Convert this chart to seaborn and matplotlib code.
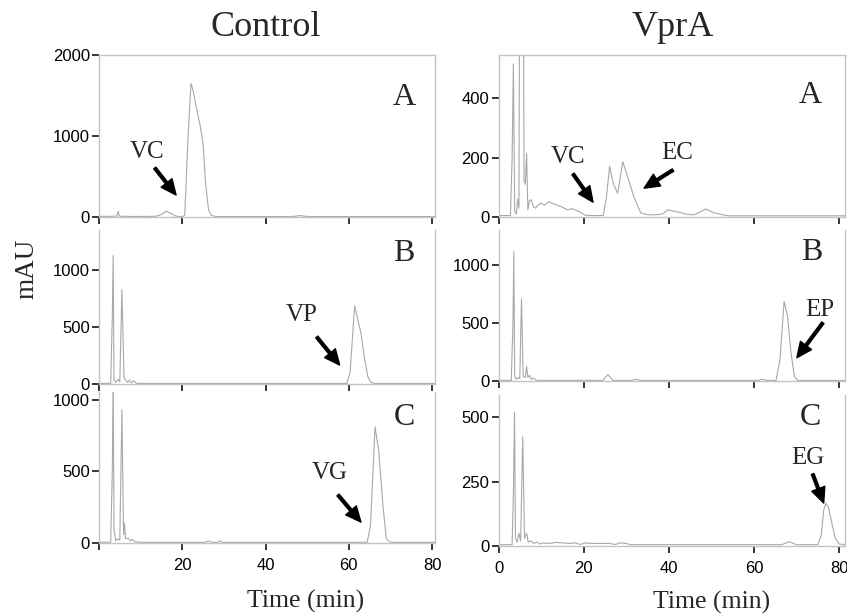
import matplotlib
matplotlib.use("Agg")
import matplotlib.pyplot as plt
import pandas as pd
import seaborn as sns

# Control, panel A (VC)
ctrl_a_time = [0, 3.0, 4.3, 4.6, 4.9, 8, 13.5, 15, 16.1, 17.3, 18.5, 20.0, 20.6, 21.3, 22.1, 22.6,
               23.5, 24.3, 25.0, 25.6, 26.3, 27.0, 28, 46.5, 48.4, 50, 80.7]
ctrl_a_mau = [8, 8, 12, 70, 10, 6, 8, 30, 72, 45, 10, 5, 20, 900, 1650, 1560,
              1320, 1130, 900, 420, 90, 20, 6, 6, 18, 6, 6]

# Control, panel B (VP)
ctrl_b_time = [0, 2.8, 3.2, 3.4, 3.6, 4.0, 4.6, 5.0, 5.5, 6.0, 6.4, 6.9, 7.3, 7.8, 8.3, 9,
               59.5, 60.3, 61.4, 62.2, 62.9, 63.8, 64.6, 65.3, 66, 80.7]
ctrl_b_mau = [5, 5, 600, 1130, 40, 15, 40, 20, 830, 60, 30, 15, 35, 10, 30, 5,
              5, 100, 690, 560, 450, 220, 60, 15, 5, 5]

# Control, panel C (VG)
ctrl_c_time = [0, 2.8, 3.2, 3.4, 3.6, 4.0, 4.5, 5.0, 5.5, 5.9, 6.1, 6.4, 7.0, 7.5, 8.0, 8.6, 9.5,
               25.5, 26.3, 27, 28.5, 29.1, 29.7, 64.4, 65.2, 66.3, 67.2, 68.2, 69.0, 70, 80.7]
ctrl_c_mau = [5, 5, 500, 1200, 100, 15, 30, 20, 930, 60, 140, 30, 35, 15, 25, 10, 5,
              5, 15, 5, 5, 15, 5, 5, 120, 810, 640, 260, 30, 5, 5]

# VprA, panel A (VC, EC)
vpra_a_time = [0, 2.8, 3.2, 3.5, 3.8, 4.2, 4.5, 4.8, 5.4, 6.0, 6.3, 6.6, 6.9, 7.3, 7.7, 8.2, 8.7,
               9.3, 9.9, 10.8, 11.8, 12.8, 13.8, 15, 16.2, 17.4, 18.6, 19.4, 20.2, 21, 24.6,
               25.3, 26.1, 27.0, 28.0, 29.2, 30.3, 31.8, 33.4, 35, 36.5, 38.5, 39.8, 42.1, 44,
               45.9, 48.7, 50.6, 53.9, 80, 81.4]
vpra_a_mau = [5, 5, 200, 515, 20, 10, 60, 30, 3000, 120, 110, 215, 25, 55, 58, 35, 30,
              40, 47, 40, 51, 45, 40, 33, 24, 28, 20, 15, 7, 5, 5,
              60, 170, 110, 80, 186, 137, 68, 14, 8, 7, 10, 24, 17, 10,
              7, 27, 14, 4, 4, 4]

# VprA, panel B (EP)
vpra_b_time = [0, 3.0, 3.4, 3.6, 3.8, 4.2, 4.7, 5.0, 5.4, 5.8, 6.3, 6.6, 6.9, 7.3, 7.7, 8.2, 9,
               24.5, 25.7, 26.9, 31.3, 32.3, 33.3, 61, 62, 63, 65.2, 66.1, 67.1, 67.9, 68.7,
               69.5, 70.3, 81.4]
vpra_b_mau = [5, 5, 500, 1117, 40, 15, 30, 20, 709, 40, 30, 126, 30, 50, 15, 25, 5,
              5, 55, 5, 5, 15, 5, 5, 15, 5, 5, 180, 686, 560, 250,
              40, 5, 5]

# VprA, panel C (EG)
vpra_c_time = [0, 3.2, 3.5, 3.76, 4.0, 4.4, 4.8, 5.2, 5.7, 6.1, 6.6, 7.0, 7.6, 8.3, 9.0, 9.8,
               10.5, 12, 13.5, 15, 16.5, 18, 19.2, 20.5, 22, 24, 26, 27.5, 28.5, 30, 31,
               66.5, 68.3, 70, 75.0, 75.8, 76.4, 76.9, 77.5, 78.3, 79.1, 80.0, 81.4]
vpra_c_mau = [5, 5, 200, 520, 30, 15, 49, 20, 424, 30, 49, 15, 20, 10, 15, 8,
              12, 10, 14, 12, 10, 12, 6, 12, 10, 10, 10, 6, 12, 10, 5,
              5, 17, 5, 5, 40, 140, 166, 150, 90, 30, 8, 5]

sns.set_style("ticks")
plt.rcParams["font.family"] = ["Liberation Sans", "DejaVu Sans"]
serif = ["Liberation Serif", "DejaVu Serif"]

W, H = 847, 616
fig = plt.figure(figsize=(W / 100, H / 100), dpi=100)


def px_rect(left, right, top, bottom):
    return [left / W, 1 - bottom / H, (right - left) / W, (bottom - top) / H]


panels = [
    dict(rect=px_rect(99, 435, 55, 217), t=ctrl_a_time, y=ctrl_a_mau, xlim=(0, 80.7), ylim=(0, 2000),
         yticks=[0, 1000, 2000], letter="A", lpos=(0.908, 0.74), top=True, xlab=None,
         notes=[("VC", (11.5, 800), (13.4, 605), (18.5, 272))]),
    dict(rect=px_rect(99, 435, 230, 384), t=ctrl_b_time, y=ctrl_b_mau, xlim=(0, 80.7), ylim=(0, 1356),
         yticks=[0, 500, 1000], letter="B", lpos=(0.908, 0.85), top=False, xlab=None,
         notes=[("VP", (48.7, 607), (52.3, 414), (57.8, 167))]),
    dict(rect=px_rect(99, 435, 392, 543), t=ctrl_c_time, y=ctrl_c_mau, xlim=(0, 80.7), ylim=(0, 1053),
         yticks=[0, 500, 1000], letter="C", lpos=(0.908, 0.828), top=False, xlab=["", "20", "40", "60", "80"],
         notes=[("VG", (55.4, 488), (57.4, 335), (62.9, 146))]),
    dict(rect=px_rect(498.5, 845, 55, 217), t=vpra_a_time, y=vpra_a_mau, xlim=(0, 81.4), ylim=(0, 545),
         yticks=[0, 200, 400], letter="A", lpos=(0.899, 0.75), top=True, xlab=None,
         notes=[("VC", (16.4, 202), (17.5, 145), (22.2, 50)),
                ("EC", (41.9, 215), (41.0, 158), (34.2, 97))]),
    dict(rect=px_rect(498.5, 845, 230, 381), t=vpra_b_time, y=vpra_b_mau, xlim=(0, 81.4), ylim=(0, 1304),
         yticks=[0, 500, 1000], letter="B", lpos=(0.905, 0.848), top=False, xlab=None,
         notes=[("EP", (75.5, 615), (76.2, 503), (70.1, 201))]),
    dict(rect=px_rect(498.5, 845, 395, 546), t=vpra_c_time, y=vpra_c_mau, xlim=(0, 81.4), ylim=(0, 587),
         yticks=[0, 250, 500], letter="C", lpos=(0.899, 0.848), top=False, xlab=["0", "20", "40", "60", "80"],
         notes=[("EG", (72.7, 342), (73.8, 280), (76.4, 167))]),
]

for p in panels:
    ax = fig.add_axes(p["rect"])
    df = pd.DataFrame({"Time": p["t"], "mAU": p["y"]})
    sns.lineplot(data=df, x="Time", y="mAU", color="#a8a8a8", linewidth=0.8, ax=ax)
    ax.set_xlim(*p["xlim"])
    ax.set_ylim(*p["ylim"])
    ax.set_xticks([0, 20, 40, 60, 80])
    ax.set_yticks(p["yticks"])
    if p["xlab"] is None:
        ax.set_xticklabels([])
    else:
        ax.set_xticklabels(p["xlab"])
    ax.set_xlabel("")
    ax.set_ylabel("")
    for side in ["left", "right", "bottom", "top"]:
        ax.spines[side].set_color("#c4c4c4")
        ax.spines[side].set_linewidth(1.0)
    ax.spines["top"].set_visible(p["top"])
    ax.spines["right"].set_visible(True)
    ax.tick_params(axis="both", direction="out", length=5, width=1.1, color="black",
                   labelsize=12, labelcolor="black")
    ax.tick_params(axis="y", pad=1.5)
    ax.tick_params(axis="x", pad=6)
    ax.text(p["lpos"][0], p["lpos"][1], p["letter"], transform=ax.transAxes, ha="center", va="center",
            fontsize=23, family=serif)
    for label, txt, tail, head in p["notes"]:
        ax.text(txt[0], txt[1], label, ha="center", va="center", fontsize=18, family=serif)
        ax.annotate("", xy=head, xytext=tail,
                    arrowprops=dict(facecolor="black", edgecolor="black", width=2.0,
                                    headwidth=10, headlength=11, shrink=0))

fig.text(266 / W, 1 - 28 / H, "Control", ha="center", va="center", fontsize=26, family=serif)
fig.text(673 / W, 1 - 28 / H, "VprA", ha="center", va="center", fontsize=26, family=serif)
fig.text(27 / W, 1 - 269 / H, "mAU", ha="center", va="center", rotation=90, fontsize=19.5, family=serif)
fig.text(306 / W, 1 - 601 / H, "Time (min)", ha="center", va="center", fontsize=18.5, family=serif)
fig.text(712 / W, 1 - 602 / H, "Time (min)", ha="center", va="center", fontsize=18.5, family=serif)

fig.savefig("out.png", dpi=100)
